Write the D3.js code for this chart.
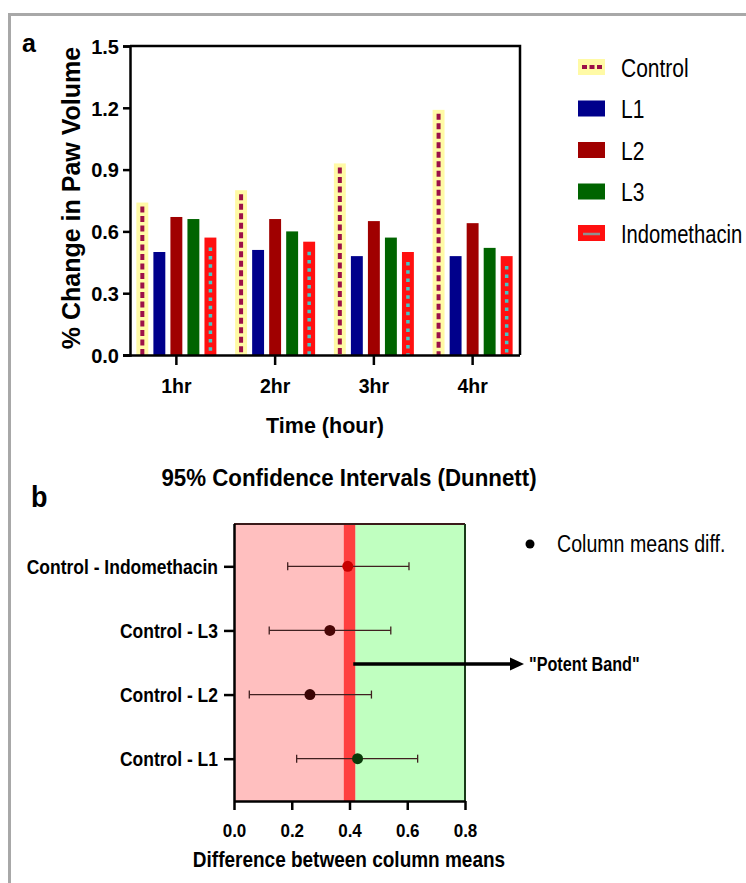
<!DOCTYPE html>
<html>
<head>
<meta charset="utf-8">
<script src="https://cdn.jsdelivr.net/npm/d3@7"></script>
<style>
	body { margin: 0; background: #fff; }
	svg { display: block; font-family: "Liberation Sans", Arial, sans-serif; }
</style>
</head>
<body>
<svg id="chart" width="746" height="883"></svg>
<script>
// panel a data
var hours = ["1hr", "2hr", "3hr", "4hr"];
var groups = ["Control", "L1", "L2", "L3", "Indomethacin"];
var controlVals = [0.74, 0.80, 0.93, 1.19];
var l1Vals = [0.50, 0.51, 0.48, 0.48];
var l2Vals = [0.67, 0.66, 0.65, 0.64];
var l3Vals = [0.66, 0.60, 0.57, 0.52];
var indoVals = [0.57, 0.55, 0.50, 0.48];
var yTicksA = [0.0, 0.3, 0.6, 0.9, 1.2, 1.5];

// panel b data
var comparisons = ["Control - Indomethacin", "Control - L3", "Control - L2", "Control - L1"];
var meanDiff = [0.394, 0.332, 0.263, 0.428];
var ciLow = [0.186, 0.122, 0.053, 0.217];
var ciHigh = [0.606, 0.543, 0.476, 0.636];
var dotColors = ["#c80000", "#4a0606", "#3a0404", "#0a3a0a"];
var xTicksB = [0.0, 0.2, 0.4, 0.6, 0.8];
var potentBand = [0.38, 0.42];

var svg = d3.select("#chart");

// the picture is a little stretched vertically, so text gets a y scale
function label(parent, x, y, str, size, bold, sy, anchor) {
	return parent.append("text")
		.attr("transform", "translate(" + x + "," + y + ") scale(1," + (sy || 1) + ")")
		.style("font-size", size + "px")
		.style("font-weight", bold ? "bold" : "normal")
		.style("text-anchor", anchor || "start")
		.text(str);
}

// outer frame (left and top edges only visible)
svg.append("path")
	.attr("d", "M9.5,883 L9.5,14.5 L746,14.5")
	.style("fill", "none")
	.style("stroke", "#a8a8a8")
	.style("stroke-width", 3);

var fillColors = { "Control": "#fffaa6", "L1": "#00008b", "L2": "#a00000", "L3": "#006400", "Indomethacin": "#ff1010" };
var seriesVals = { "Control": controlVals, "L1": l1Vals, "L2": l2Vals, "L3": l3Vals, "Indomethacin": indoVals };

// ---------- panel a ----------
var plotA = { left: 130, right: 520, top: 46, bottom: 355 };
var yA = d3.scaleLinear().domain([0, 1.5]).range([plotA.bottom, plotA.top]);
var x0 = d3.scaleBand().domain(hours).range([127, 522]);
var x1 = d3.scaleBand().domain(groups).range([0, 80]).paddingInner(0.3);

var gA = svg.append("g");

hours.forEach(function(h, i) {
	var gx = x0(h) + x0.bandwidth() / 2 - 40;
	groups.forEach(function(s) {
		var v = seriesVals[s][i];
		var bx = gx + x1(s);
		var bw = x1.bandwidth();
		gA.append("rect")
			.attr("x", bx)
			.attr("y", yA(v))
			.attr("width", bw)
			.attr("height", yA(0) - yA(v))
			.style("fill", fillColors[s]);
		if (s == "Control") {
			gA.append("line")
				.attr("x1", bx + bw / 2).attr("x2", bx + bw / 2)
				.attr("y1", yA(v) + 4).attr("y2", yA(0))
				.style("stroke", "#9c1048")
				.style("stroke-width", 4)
				.style("stroke-dasharray", "6,3.5");
		}
		if (s == "Indomethacin") {
			gA.append("line")
				.attr("x1", bx + bw / 2).attr("x2", bx + bw / 2)
				.attr("y1", yA(v) + 10).attr("y2", yA(0))
				.style("stroke", "#40c8c8")
				.style("stroke-width", 3.5)
				.style("stroke-dasharray", "3.5,4.8");
		}
	});
});

// frame of panel a
gA.append("path")
	.attr("d", "M" + plotA.left + "," + plotA.top + " H" + plotA.right + " V" + plotA.bottom)
	.style("fill", "none")
	.style("stroke", "#000")
	.style("stroke-width", 2.5);

var yAxisA = gA.append("g")
	.attr("transform", "translate(" + plotA.left + ",0)")
	.call(d3.axisLeft(yA).tickValues(yTicksA).tickFormat(d3.format(".1f")).tickSize(7).tickPadding(4));
var xAxisA = gA.append("g")
	.attr("transform", "translate(0," + plotA.bottom + ")")
	.call(d3.axisBottom(x0).tickSize(10).tickSizeOuter(0));
xAxisA.select(".domain").attr("d", "M123," + 0.5 + " H" + plotA.right);
xAxisA.selectAll(".tick").attr("transform", function(d) { return "translate(" + (x0(d) + x0.bandwidth() / 2) + ",0)"; });

[yAxisA, xAxisA].forEach(function(ax) {
	ax.select(".domain").style("stroke-width", 2.5);
	ax.selectAll(".tick line").style("stroke-width", 2.5);
	ax.selectAll("text")
		.style("font-size", "20px")
		.style("font-weight", "bold")
		.style("font-family", "'Liberation Sans', Arial, sans-serif")
		.style("fill", "#000");
});
yAxisA.selectAll("text").attr("x", -11).attr("dy", "0.36em");
xAxisA.selectAll("text").style("font-size", "19.5px").attr("y", 38).attr("dy", 0);

gA.append("text")
	.attr("transform", "translate(80,198) rotate(-90)")
	.style("text-anchor", "middle")
	.style("font-size", "25px")
	.style("font-weight", "bold")
	.text("% Change in Paw Volume");

label(gA, 325, 433, "Time (hour)", 21.5, true, 1, "middle");
label(gA, 22, 52, "a", 25, true, 1);

// legend a
var legendA = gA.selectAll(".legend")
	.data(groups)
	.enter()
	.append("g")
	.attr("class", "legend")
	.attr("transform", function(d, i) { return "translate(578," + (67 + i * 41.5) + ")"; });

legendA.append("rect")
	.attr("x", 0).attr("y", -8)
	.attr("width", 27).attr("height", 16)
	.style("fill", function(d) { return fillColors[d]; });
legendA.filter(function(d) { return d == "Control"; })
	.append("line")
	.attr("x1", 4).attr("x2", 24).attr("y1", 0).attr("y2", 0)
	.style("stroke", "#9c1048").style("stroke-width", 4).style("stroke-dasharray", "5,2.5");
legendA.filter(function(d) { return d == "Indomethacin"; })
	.append("line")
	.attr("x1", 5).attr("x2", 22).attr("y1", 1).attr("y2", 1)
	.style("stroke", "#909090").style("stroke-width", 2.5);
legendA.each(function(d) {
	// the long name is shrunk a touch so it stays inside the page
	label(d3.select(this), 43, 9.5, d, d == "Indomethacin" ? 20.2 : 21, false, 1.25);
});

// ---------- panel b ----------
var plotB = { left: 234, right: 465, top: 524, bottom: 801 };
var xB = d3.scaleLinear().domain([0, 0.8]).range([plotB.left, plotB.right]);
var yB = d3.scalePoint().domain(comparisons).range([plotB.top, plotB.bottom]).padding(0.66);

var gB = svg.append("g");

gB.append("rect")
	.attr("x", xB(0)).attr("y", plotB.top)
	.attr("width", xB(potentBand[0]) - xB(0)).attr("height", plotB.bottom - plotB.top)
	.style("fill", "#ffbfbf");
gB.append("rect")
	.attr("x", xB(potentBand[1])).attr("y", plotB.top)
	.attr("width", xB(0.8) - xB(potentBand[1])).attr("height", plotB.bottom - plotB.top)
	.style("fill", "#c0ffc0");
gB.append("rect")
	.attr("x", xB(potentBand[0])).attr("y", plotB.top)
	.attr("width", xB(potentBand[1]) - xB(potentBand[0])).attr("height", plotB.bottom - plotB.top)
	.style("fill", "#ff4040");

// frame of panel b
gB.append("line")
	.attr("x1", plotB.left).attr("x2", plotB.right).attr("y1", plotB.top).attr("y2", plotB.top)
	.style("stroke", "#3a1a1a").style("stroke-width", 2);
gB.append("line")
	.attr("x1", plotB.right).attr("x2", plotB.right).attr("y1", plotB.top).attr("y2", plotB.bottom)
	.style("stroke", "#1a3a1a").style("stroke-width", 2);

// confidence intervals
comparisons.forEach(function(c, i) {
	var y = yB(c);
	var ci = gB.append("g").style("stroke", "#402020").style("stroke-width", 1.3);
	ci.append("line").attr("x1", xB(ciLow[i])).attr("x2", xB(ciHigh[i])).attr("y1", y).attr("y2", y);
	ci.append("line").attr("x1", xB(ciLow[i])).attr("x2", xB(ciLow[i])).attr("y1", y - 4).attr("y2", y + 4);
	ci.append("line").attr("x1", xB(ciHigh[i])).attr("x2", xB(ciHigh[i])).attr("y1", y - 4).attr("y2", y + 4);
	gB.append("circle")
		.attr("cx", xB(meanDiff[i])).attr("cy", y).attr("r", 5.5)
		.style("fill", dotColors[i]);
});

var yAxisB = gB.append("g")
	.attr("transform", "translate(" + plotB.left + ",0)")
	.call(d3.axisLeft(yB).tickSize(10).tickSizeOuter(0));
yAxisB.select(".domain").attr("d", "M0.5," + plotB.top + " V" + plotB.bottom);
var xAxisB = gB.append("g")
	.attr("transform", "translate(0," + plotB.bottom + ")")
	.call(d3.axisBottom(xB).tickValues(xTicksB).tickFormat(d3.format(".1f")).tickSize(9).tickSizeOuter(0));

[yAxisB, xAxisB].forEach(function(ax) {
	ax.select(".domain").style("stroke-width", 2.5);
	ax.selectAll(".tick line").style("stroke-width", 2.5);
	ax.selectAll("text")
		.style("font-weight", "bold")
		.style("font-family", "'Liberation Sans', Arial, sans-serif")
		.style("fill", "#000");
});
yAxisB.selectAll("text")
	.style("font-size", "17.5px")
	.attr("x", -16).attr("dy", "0.36em")
	.attr("transform", "scale(1,1.12)");
xAxisB.selectAll("text")
	.style("font-size", "17px")
	.attr("y", 36 / 1.08).attr("dy", 0)
	.attr("transform", "scale(1,1.08)");

// potent band arrow
var arrowY = 664;
gB.append("line")
	.attr("x1", xB(potentBand[1]) - 2).attr("x2", 512)
	.attr("y1", arrowY).attr("y2", arrowY)
	.style("stroke", "#000").style("stroke-width", 3.5);
gB.append("path")
	.attr("d", "M510," + (arrowY - 6.5) + " L524," + arrowY + " L510," + (arrowY + 6.5) + "Z")
	.style("fill", "#000");
label(gB, 529, arrowY + 6.5, "\"Potent Band\"", 16.2, true, 1.2);

label(gB, 349, 486, "95% Confidence Intervals (Dunnett)", 22.3, true, 1.08, "middle");
label(gB, 349, 867, "Difference between column means", 19, true, 1.18, "middle");
label(gB, 31, 507, "b", 27, true, 1.1);

// legend b
gB.append("circle").attr("cx", 530).attr("cy", 544).attr("r", 4.5).style("fill", "#000");
label(gB, 557, 552, "Column means diff.", 19.6, false, 1.25);
</script>
</body>
</html>
